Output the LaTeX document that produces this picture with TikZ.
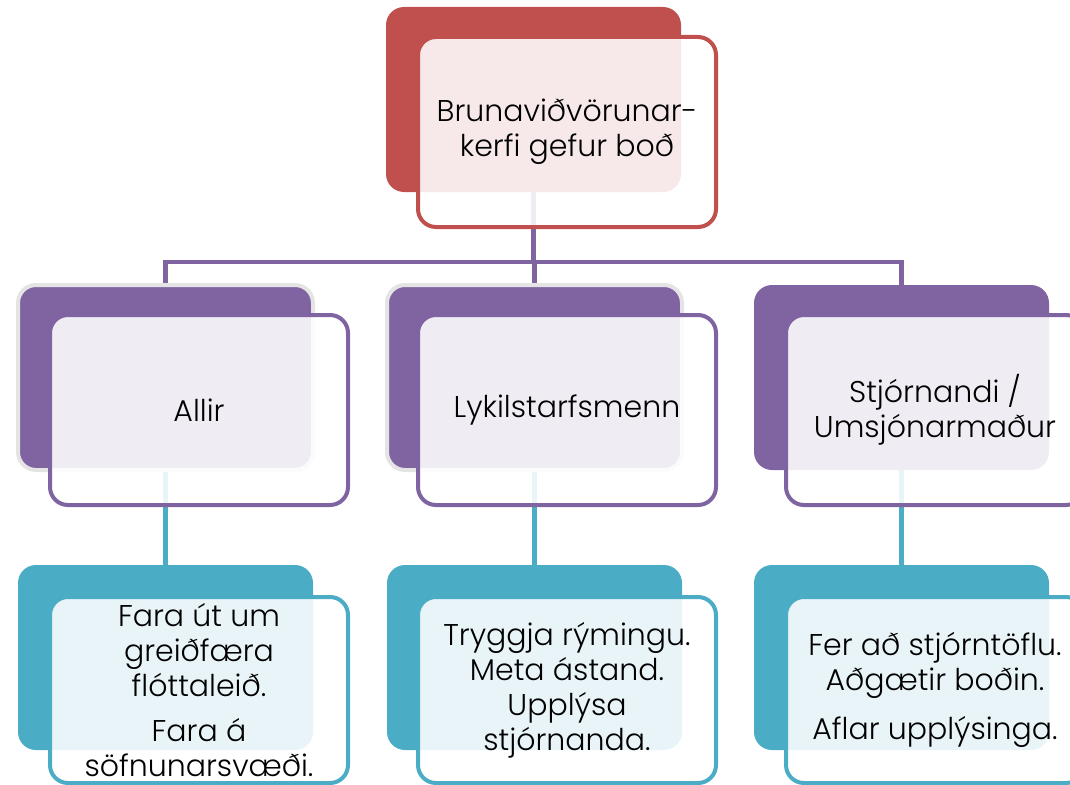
\documentclass[tikz,border=0pt]{standalone}
\usepackage{fontspec}
\setmainfont{Poppins Light}
\usetikzlibrary{calc}
\definecolor{cred}{HTML}{C0504D}
\definecolor{cpur}{HTML}{8064A2}
\definecolor{cteal}{HTML}{4BACC6}
\definecolor{chalo}{HTML}{E4E4E4}
\pgfdeclarelayer{bg}
\pgfsetlayers{bg,main}
\tikzset{
  backbox/.style={rectangle, rounded corners=18pt, fill=#1, inner sep=0pt, outer sep=0pt,
    minimum width=295pt, minimum height=185pt, anchor=north west},
  halo/.style={draw=chalo, line width=4pt},
  frontbox/.style={rectangle, rounded corners=18pt, draw=#1, line width=4pt, fill=white,
    fill opacity=0.88, text opacity=1, inner sep=0pt, outer sep=0pt,
    minimum width=298pt, minimum height=190pt, align=center, anchor=north west,
    font=\fontsize{30pt}{35pt}\selectfont},
  conn/.style={draw=#1, line width=4.5pt},
}
\begin{document}
\begin{tikzpicture}[x=1pt,y=-1pt]
\useasboundingbox (0,0) rectangle (1070,784);
% top
\node[backbox=cred] (r0) at (386,7) {};
\node[frontbox=cred] (f0) at (418,37) {Brunaviðvörunar-\\kerfi gefur boð};
% middle row
\node[backbox=cpur, halo] (p1) at (18,285) {};
\node[frontbox=cpur] (g1) at (50,315) {Allir};
\node[backbox=cpur, halo] (p2) at (387,285) {};
\node[frontbox=cpur] (g2) at (418,315) {Lykilstarfsmenn};
\node[backbox=cpur] (p3) at (754,285) {};
\node[frontbox=cpur] (g3) at (786,315) {Stjórnandi /\\Umsjónarmaður};
% bottom row
\node[backbox=cteal] (b1) at (18,565) {};
\node[frontbox=cteal, minimum height=186pt] (h1) at (50,597) {\fontsize{30pt}{32pt}\selectfont Fara út um\\greiðfæra\\flóttaleið.\\[10pt]Fara á\\söfnunarsvæði.};
\node[backbox=cteal] (b2) at (387,565) {};
\node[frontbox=cteal, minimum height=186pt] (h2) at (418,597) {\fontsize{30pt}{34pt}\selectfont Tryggja rýmingu.\\Meta ástand.\\Upplýsa\\stjórnanda.};
\node[backbox=cteal] (b3) at (754,565) {};
\node[frontbox=cteal, minimum height=186pt] (h3) at (786,597) {\fontsize{30pt}{33pt}\selectfont Fer að stjórntöflu.\\Aðgætir boðin.\\[14pt]Aflar upplýsinga.};
% connectors
\coordinate (bar) at (0,262);
\begin{pgfonlayer}{bg}
\draw[conn=cpur] (r0.south) -- (r0.south |- bar);
\draw[conn=cpur] (p1.north) -- (p1.north |- bar) -- (p3.north |- bar) -- (p3.north);
\draw[conn=cpur] (p2.north) -- (p2.north |- bar);
\draw[conn=cteal] (p1.south) -- (b1.north);
\draw[conn=cteal] (p2.south) -- (b2.north);
\draw[conn=cteal] (p3.south) -- (b3.north);
\end{pgfonlayer}
\end{tikzpicture}
\end{document}
